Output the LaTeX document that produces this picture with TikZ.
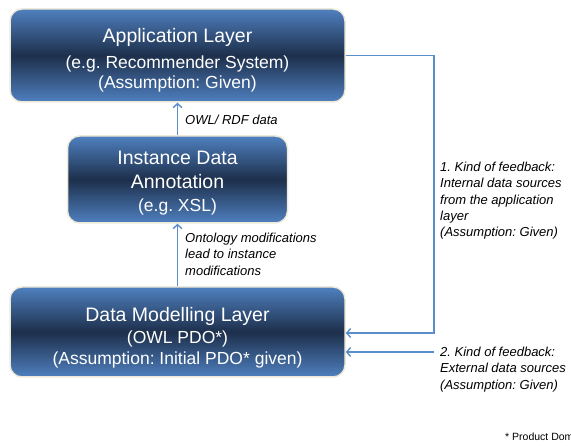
\documentclass[tikz,border=0pt]{standalone}
\usepackage{fontspec}
\setmainfont{Liberation Sans}
\frenchspacing
\usetikzlibrary{arrows.meta,calc}
\definecolor{boxlight}{HTML}{4F80BF}
\definecolor{boxdark}{HTML}{1D2F4B}
\definecolor{boxrim}{HTML}{EEE9D8}
\definecolor{flowblue}{HTML}{5B8CCB}
\tikzset{>={Straight Barb[length=4pt,width=9pt]}}
\tikzstyle{layer}=[rectangle,draw=boxrim,line width=1.5pt,rounded corners=12pt,top color=boxlight,bottom color=boxlight,middle color=boxdark,text=white,align=center,font=\fontsize{17.5}{20}\selectfont]
\tikzstyle{note}=[anchor=north west,inner sep=0pt,align=left,font=\fontsize{13}{16.3}\selectfont\itshape]
\tikzstyle{flow}=[draw=flowblue,line width=1.4pt]
\newcommand{\titlefont}{\fontsize{19.5}{22}\selectfont}

\begin{document}
\begin{tikzpicture}[x=1pt,y=-1pt]
	\useasboundingbox (0,0) rectangle (571,446);
	\clip (0,0) rectangle (571,446);

	\node[layer, minimum width=335pt, minimum height=93pt] (app) at (177.5,55.5)
		{{\titlefont\rule{0pt}{24pt}Application Layer}\\[5.5pt] (e.g. Recommender System)\\ (Assumption: Given)};
	\node[layer, minimum width=220pt, minimum height=87pt] (inst) at (177.5,179.5)
		{{\titlefont\rule{0pt}{21pt}Instance Data}\\[4pt] {\titlefont Annotation}\\[2.5pt] (e.g. XSL)};
	\node[layer, minimum width=335pt, minimum height=90pt] (dm) at (177.5,332)
		{{\titlefont\rule{0pt}{26pt}Data Modelling Layer}\\[1.5pt] (OWL PDO*)\\[1pt] (Assumption: Initial PDO* given)};

	\coordinate (fb1) at (434,333);
	\coordinate (fb2) at (434,352);

	\draw[flow,->] (inst) -- (app);
	\draw[flow,->] (dm) -- (inst);
	\draw[flow,->] (app.east) -| (fb1) -- (fb1 -| dm.east);
	\draw[flow,->] (fb2) -- (fb2 -| dm.east);

	\node[note] (owl) at (185,115) {OWL/ RDF data};
	\node[note] (onto) at (185,233) {Ontology modifications\\lead to instance\\modifications};
	\node[note] (kind1) at (440,162) {1. Kind of feedback:\\Internal data sources\\from the application\\layer\\(Assumption: Given)};
	\node[note] (kind2) at (440,347) {2. Kind of feedback:\\External data sources\\(Assumption: Given)};

	\node[anchor=base west, inner sep=0pt, font=\fontsize{10.5}{12}\selectfont] (pdo) at (505,441) {* Product Domain Ontology};

\end{tikzpicture}
\end{document}
